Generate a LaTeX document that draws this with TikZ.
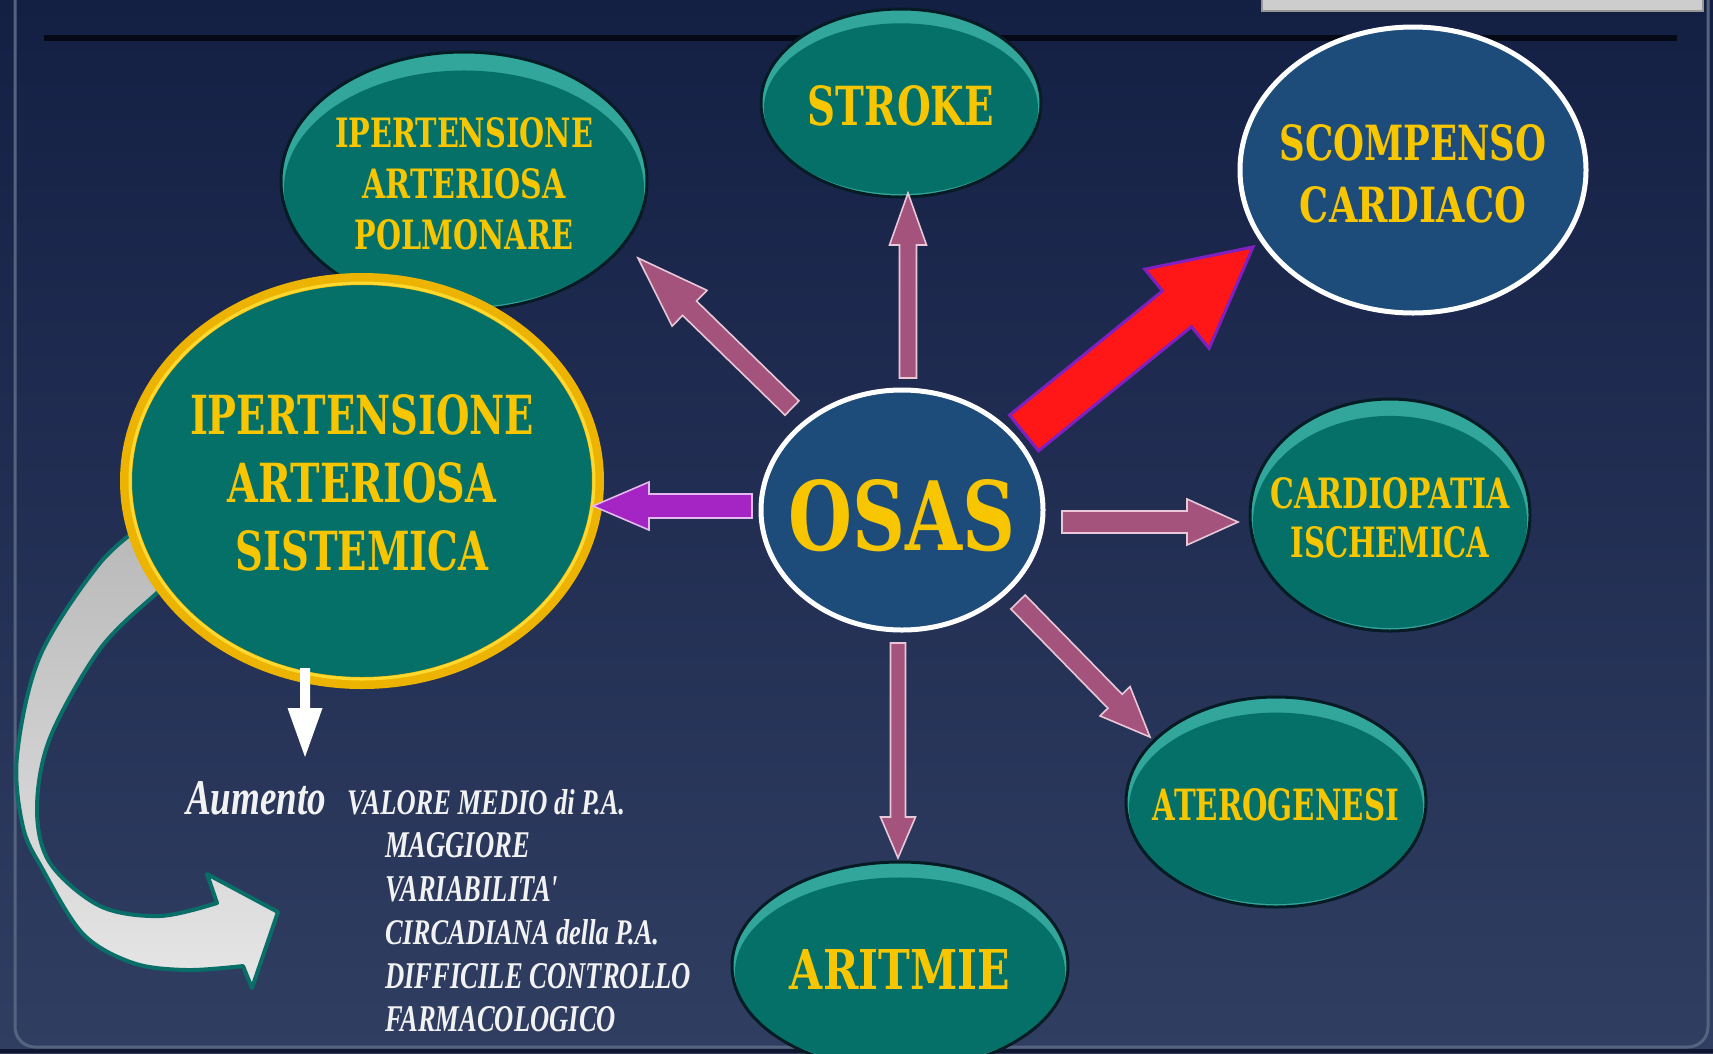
\documentclass[tikz,border=0pt]{standalone}
\usepackage{fontspec}
\usepackage{graphicx}
\usetikzlibrary{calc,shapes.geometric}

\newfontfamily\slabfont{DejaVu Serif}
\newfontfamily\romanfont{Liberation Serif}

\definecolor{bgtop}{RGB}{20,31,68}
\definecolor{bgbot}{RGB}{48,62,98}
\definecolor{frameline}{RGB}{86,99,127}
\definecolor{titlerule}{RGB}{5,9,22}
\definecolor{tabfill}{RGB}{205,205,205}
\definecolor{tabedge}{RGB}{150,150,150}
\definecolor{tealmain}{RGB}{4,112,103}
\definecolor{tealrim}{RGB}{50,166,154}
\definecolor{tealedge}{RGB}{6,28,36}
\definecolor{bluefill}{RGB}{29,76,122}
\definecolor{gold}{RGB}{236,180,0}
\definecolor{goldhi}{RGB}{255,216,50}
\definecolor{labelyellow}{RGB}{247,198,0}
\definecolor{notewhite}{RGB}{242,242,242}
\definecolor{mauve}{RGB}{164,84,124}
\definecolor{mauveedge}{RGB}{232,200,216}
\definecolor{violet}{RGB}{164,36,196}
\definecolor{violetedge}{RGB}{226,186,238}
\definecolor{redfill}{RGB}{255,22,22}
\definecolor{rededge}{RGB}{128,32,192}
\definecolor{bandedge}{RGB}{10,110,104}
\definecolor{bandtop}{RGB}{184,184,184}
\definecolor{bandbot}{RGB}{230,230,230}

% one line of label text, stretched to a given width and cap height (in px = pt)
\newcommand\capline[3]{\resizebox{#1pt}{#2pt}{\slabfont\bfseries #3}}
\newcommand\itline[3]{\resizebox{#1pt}{#2pt}{\romanfont\bfseries\itshape #3}}

% block arrow: style, tail, tip, half shaft width, half head width, head length
\newcommand\blockarrow[6]{%
  \coordinate (bahead) at ($(#3)!#6!(#2)$);
  \path[#1] ($(#2)!#4!90:(#3)$) -- ($(bahead)!#4!90:(#3)$) -- ($(bahead)!#5!90:(#3)$)
    -- (#3) -- ($(bahead)!#5!-90:(#3)$) -- ($(bahead)!#4!-90:(#3)$) -- ($(#2)!#4!-90:(#3)$) -- cycle;
}

% bevelled teal ellipse: {name}{x}{y}{rx}{ry}{label options}{label}
\newcommand\tealnode[7]{%
  \fill[tealrim] (#2,#3) ellipse [x radius=#4, y radius=#5];
  \fill[tealmain] (#2,#3+0.06*#5) ellipse [x radius=#4-3, y radius=0.94*#5-3];
  \node[tealbox, minimum width=2*#4, minimum height=2*#5] (#1) at (#2,#3) {};
  \node[labeltext, #6] (#1-label) at ($(#1)+(0,3)$) {#7};
}

\tikzset{
  tealbox/.style={ellipse, draw=tealedge, line width=3, inner sep=0, outer sep=0},
  bluebox/.style={ellipse, fill=bluefill, draw=white, line width=5, inner sep=0, outer sep=0},
  labeltext/.style={inner sep=0, outer sep=0, align=center, text=labelyellow},
  pinkarrow/.style={fill=mauve, draw=mauveedge, line width=1.6, line join=miter},
  violetarrow/.style={fill=violet, draw=violetedge, line width=1.6, line join=miter},
  redarrow/.style={fill=redfill, draw=rededge, line width=3, line join=miter},
  whitearrow/.style={fill=white},
  bandarrow/.style={draw=bandedge, line width=4, top color=bandtop, bottom color=bandbot,
    line join=round},
  note/.style={inner sep=0, outer sep=0, text=notewhite},
}

\begin{document}
\begin{tikzpicture}[x=1pt, y=-1pt]
\useasboundingbox (0,0) rectangle (1713,1053);

% slide background and frame
\shade[top color=bgtop, bottom color=bgbot] (0,0) rectangle (1713,1053);
\fill[bgtop!70!black] (0,1049) rectangle (1713,1053);
\draw[frameline, line width=3, rounded corners=20] (15,-10) -- (15,1047) -- (1708,1047) -- (1708,-10);
\draw[fill=tabfill, draw=tabedge, line width=2] (1262,-6) rectangle (1703,11);
\draw[titlerule, line width=6] (44,38) -- (1677,38);

% curved band from the systemic hypertension ellipse to the list
\path[bandarrow]
  plot[smooth, tension=0.55] coordinates {(150,520) (100,563) (40,656) (17,756) (23,827)
    (43,870) (83,934) (133,963) (187,970) (243,966)}
  -- (252,988) -- (278,912) -- (207,874) -- (217,903)
  -- plot[smooth, tension=0.55] coordinates {(217,903) (160,916) (100,906) (50,863)
    (37,809) (50,738) (100,649) (157,593) (180,575)}
  -- cycle;

% teal nodes
\tealnode{stroke}{901}{103}{140}{94}{}{\capline{186}{40}{STROKE}}
\tealnode{polm}{464}{181}{183}{129}{font={\fontsize{10}{51}\selectfont}}%
  {\capline{258}{30}{IPERTENSIONE}\\\capline{203}{30}{ARTERIOSA}\\\capline{218}{30}{POLMONARE}}
\tealnode{cardio}{1390}{515}{140}{116}{font={\fontsize{10}{49}\selectfont}}%
  {\capline{239}{31}{CARDIOPATIA}\\\capline{199}{31}{ISCHEMICA}}
\tealnode{atero}{1276}{802}{150}{105}{}{\capline{246}{32}{ATEROGENESI}}
\tealnode{arit}{900}{966}{168}{104}{}{\capline{220}{40}{ARITMIE}}

% systemic hypertension, gold ring
\node[ellipse, fill=tealmain, draw=gold, line width=12, inner sep=0, outer sep=0,
  minimum width=472, minimum height=404] (sist) at (362,481) {};
\draw[goldhi, line width=3] (sist.center) ellipse [x radius=232, y radius=198];
\node[labeltext, font={\fontsize{10}{68}\selectfont}] (sist-label) at ($(sist)+(0,2)$)
  {\capline{344}{40}{IPERTENSIONE}\\\capline{268}{40}{ARTERIOSA}\\\capline{253}{40}{SISTEMICA}};

% blue nodes
\node[bluebox, minimum width=282, minimum height=240] (osas) at (902,510) {};
\node[labeltext] (osas-label) at ($(osas)+(0,6)$) {\capline{227}{71}{OSAS}};
\node[bluebox, minimum width=346, minimum height=286] (scomp) at (1413,170) {};
\node[labeltext, font={\fontsize{10}{62}\selectfont}] (scomp-label) at ($(scomp)+(0,4)$)
  {\capline{267}{36}{SCOMPENSO}\\\capline{226}{36}{CARDIACO}};

% text block under the systemic hypertension ellipse
\node[note, anchor=base west] (aum) at (186,814) {\itline{140}{33}{Aumento}};
\node[note, anchor=north west, align=left, font={\fontsize{10}{43.5}\selectfont}] (list) at (347,789)
  {\itline{278}{25}{VALORE MEDIO di P.A.}\\
   \hspace*{38pt}\itline{145}{25}{MAGGIORE}\\
   \hspace*{38pt}\itline{173}{25}{VARIABILITA'}\\
   \hspace*{38pt}\itline{274}{25}{CIRCADIANA della P.A.}\\
   \hspace*{38pt}\itline{306}{25}{DIFFICILE CONTROLLO}\\
   \hspace*{38pt}\itline{231}{25}{FARMACOLOGICO}};

% connectors from OSAS
\coordinate (t1) at ($(osas.north)+(6,-12)$);   \coordinate (h1) at ($(stroke.south)+(7,-4)$);
\coordinate (t2) at ($(osas)+(-110,-102)$);     \coordinate (h2) at ($(polm)+(174,77)$);
\coordinate (t3) at ($(osas)+(122,-77)$);       \coordinate (h3) at ($(scomp)+(-160,77)$);
\coordinate (t4) at ($(osas.west)+(-9,-4)$);    \coordinate (h4) at ($(sist.east)+(-5,25)$);
\coordinate (t5) at ($(osas.east)+(19,12)$);    \coordinate (h5) at ($(cardio.west)+(-12,7)$);
\coordinate (t6) at ($(osas)+(116,92)$);        \coordinate (h6) at ($(atero)+(-126,-65)$);
\coordinate (t7) at ($(osas.south)+(-4,13)$);   \coordinate (h7) at ($(arit.north)+(-2,-4)$);
\coordinate (t8) at ($(sist.south)+(-57,-15)$); \coordinate (h8) at ($(aum.north east)+(-21,-24)$);

\blockarrow{pinkarrow}{t1}{h1}{8.5pt}{18.5pt}{52pt}
\blockarrow{pinkarrow}{t2}{h2}{10pt}{25pt}{72pt}
\blockarrow{redarrow}{t3}{h3}{23pt}{51pt}{98pt}
\blockarrow{violetarrow}{t4}{h4}{12pt}{24pt}{56pt}
\blockarrow{pinkarrow}{t5}{h5}{11pt}{23pt}{51pt}
\blockarrow{pinkarrow}{t6}{h6}{10pt}{21pt}{50pt}
\blockarrow{pinkarrow}{t7}{h7}{7.5pt}{17.5pt}{41pt}
\blockarrow{whitearrow}{t8}{h8}{5pt}{17.5pt}{49pt}
\end{tikzpicture}
\end{document}
